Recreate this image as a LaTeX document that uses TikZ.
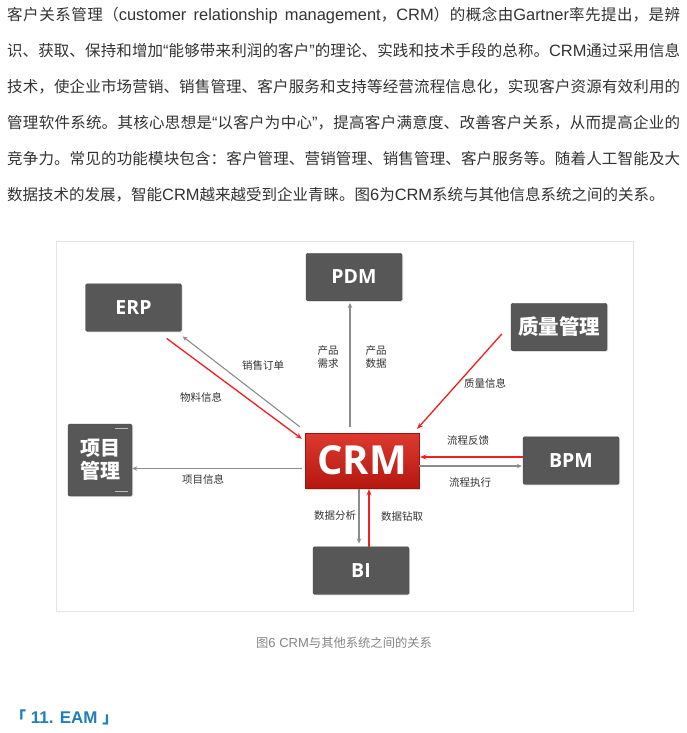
\documentclass[tikz,border=0pt]{standalone}
\usepackage{fontspec}
\setmainfont{Liberation Sans}[Scale=1.06]
\newfontfamily\cjk{Noto Sans CJK SC}
\newfontfamily\boxfont{Open Sans}
\usetikzlibrary{arrows.meta,calc,shadows}
\definecolor{txtgray}{HTML}{333333}
\definecolor{boxgray}{HTML}{575757}
\definecolor{boxedge}{HTML}{454545}
\definecolor{linkgray}{HTML}{8C8C8C}
\definecolor{linkred}{HTML}{F41E1E}
\definecolor{crmtop}{HTML}{DC3A2F}
\definecolor{crmbot}{HTML}{B5170F}
\definecolor{crmedge}{HTML}{A01410}
\definecolor{framegray}{HTML}{E4E4E4}
\definecolor{capgray}{HTML}{858585}
\definecolor{headblue}{HTML}{1F7FB6}
\newcommand\lat[1]{{\rmfamily\spaceskip=.28em plus .3em minus .05em #1}}
\XeTeXlinebreaklocale "zh"
\XeTeXlinebreakskip=0pt plus 1pt
\tolerance=9999
\tikzset{
  sysbox/.style={draw=boxedge,fill=boxgray,rounded corners=1.5pt,inner sep=0pt,minimum width=96pt,minimum height=47.5pt,text=white,drop shadow={opacity=.25,shadow xshift=1pt,shadow yshift=-1pt}},
  latbox/.style={sysbox,font=\boxfont\bfseries\fontsize{19.5}{22}\selectfont},
  cjkbox/.style={sysbox,font=\cjk\bfseries\fontsize{20.5}{23}\selectfont,align=center},
  crmbox/.style={draw=crmedge,top color=crmtop,bottom color=crmbot,inner sep=0pt,minimum width=114pt,minimum height=55pt,text=white,font=\boxfont\bfseries\fontsize{40}{44}\selectfont,drop shadow={opacity=.3,shadow xshift=1pt,shadow yshift=-1.5pt}},
  graylink/.style={line width=1.1pt,draw=linkgray,-{Stealth[length=5pt,width=4.5pt]}},
  redlink/.style={line width=1.3pt,draw=linkred,-{Stealth[length=6pt,width=5pt]}},
  lbl/.style={font=\cjk\fontsize{10.5}{13}\selectfont,text=txtgray,inner sep=0pt,align=center},
  para/.style={anchor=base west,text width=673pt,align=justify,inner sep=0pt,text=txtgray,font=\cjk\fontsize{15.5}{36}\selectfont}
}

\begin{document}
\begin{tikzpicture}[x=1pt,y=-1pt]
  \useasboundingbox[fill=white] (0,0) rectangle (686,733);

  % Intro text
  \node[para] (intro) at (7,21) {客户关系管理（\lat{customer relationship management}，\lat{CRM}）的概念由\lat{Gartner}率先提出，是辨\linebreak
    识、获取、保持和增加\lat{“}能够带来利润的客户\lat{”}的理论、实践和技术手段的总称。\lat{CRM}通过采用信息\linebreak
    技术，使企业市场营销、销售管理、客户服务和支持等经营流程信息化，实现客户资源有效利用的\linebreak
    管理软件系统。其核心思想是\lat{“}以客户为中心\lat{”}，提高客户满意度、改善客户关系，从而提高企业的\linebreak
    竞争力。常见的功能模块包含：客户管理、营销管理、销售管理、客户服务等。随着人工智能及大\linebreak
    数据技术的发展，智能\lat{CRM}越来越受到企业青睐。图\lat{6}为\lat{CRM}系统与其他信息系统之间的关系。};

  % Figure frame
  \draw[framegray,line width=1pt] (56,241) rectangle (633,611);

  % Systems
  \node[crmbox] (crm) at (362,460.5) {CRM};
  \node[latbox] (erp) at (133.5,307.5) {ERP};
  \node[latbox] (pdm) at (354,277) {PDM};
  \node[cjkbox] (qual) at (559,327) {质量管理};
  \node[latbox] (bpm) at (571,460.5) {BPM};
  \node[latbox] (bi) at (361,570.5) {BI};
  \node[sysbox,minimum width=64pt,minimum height=72pt,font=\cjk\bfseries\fontsize{20}{23}\selectfont,align=center] (proj) at (100,460) {项目\\管理};
  \draw[white!60!boxgray,line width=.8pt] ($(proj.north east)+(-17,5)$) -- ($(proj.north east)+(-4,5)$);
  \draw[white!60!boxgray,line width=.8pt] ($(proj.south east)+(-17,-5)$) -- ($(proj.south east)+(-4,-5)$);

  % Links
  \draw[redlink] ($(erp.south east)+(-15,7)$) -- ($(crm.north west)+(-3,6)$);
  \draw[graylink] ($(crm.north west)+(-5,-6)$) -- ($(erp.south east)+(1,5)$);
  \draw[graylink] ($(crm.north)+(-12,-6)$) -- ($(pdm.south)+(-4,2)$);
  \draw[redlink] ($(qual.west)+(-9,7)$) -- ($(crm.north east)+(-2,-4)$);
  \draw[redlink] ($(bpm.west)+(0,-3.5)$) -- ($(crm.east)+(1,-3.5)$);
  \draw[graylink] ($(crm.east)+(0,5.5)$) -- ($(bpm.west)+(-1,5.5)$);
  \draw[graylink] ($(crm.west)+(-3,8)$) -- ($(proj.east)+(0,8.5)$);
  \draw[graylink] ($(crm.south)+(-3,1)$) -- ($(bi.north)+(-2,-3)$);
  \draw[redlink] ($(bi.north)+(8,0)$) -- ($(crm.south)+(7,1)$);

  % Link labels
  \node[lbl] (l-order) at (263,366) {销售订单};
  \node[lbl] (l-mat) at (201,397) {物料信息};
  \node[lbl] (l-need) at (328,357) {产品\\需求};
  \node[lbl] (l-pdata) at (376,357) {产品\\数据};
  \node[lbl] (l-qual) at (485,383) {质量信息};
  \node[lbl] (l-fb) at (468,441) {流程反馈};
  \node[lbl] (l-exec) at (470,483) {流程执行};
  \node[lbl] (l-proj) at (203,479) {项目信息};
  \node[lbl] (l-ana) at (335,516) {数据分析};
  \node[lbl] (l-drill) at (402,517) {数据钻取};

  % Caption and next heading
  \node[font=\cjk\fontsize{12.3}{14}\selectfont,text=capgray,inner sep=0pt] (cap) at (344,643) {图\lat{6 CRM}与其他系统之间的关系};
  \node[anchor=west,font=\cjk\bfseries\fontsize{16}{20}\selectfont,text=headblue,inner sep=0pt] (eam) at (10,717) {「\lat{\bfseries\ 11. EAM\ }」};
\end{tikzpicture}
\end{document}
